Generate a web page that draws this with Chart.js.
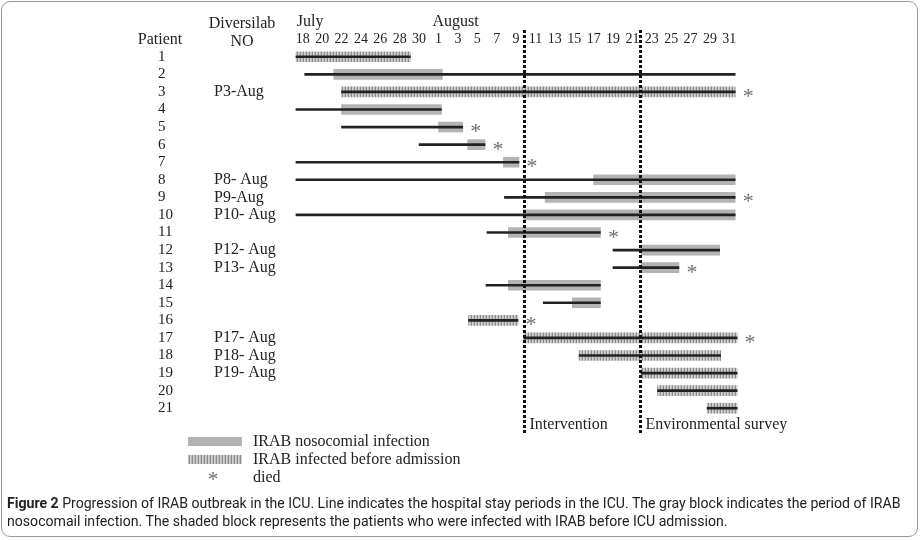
<!DOCTYPE html>
<html lang="en">
<head>
  <meta charset="UTF-8">
  <title>Progression of IRAB outbreak in the ICU</title>
  <script src="https://cdn.jsdelivr.net/npm/chart.js"></script>
  <style>
    html, body {
      margin: 0;
      padding: 0;
      background: #fff;
    }

    #chart {
      position: absolute;
      left: 0;
      top: 0;
    }

    #frame {
      position: absolute;
      left: 1px;
      top: 1px;
      width: 915px;
      height: 534px;
      border: 1px solid #9a9a9a;
      border-radius: 9px;
      pointer-events: none;
    }

    #caption {
      position: absolute;
      left: 7px;
      top: 494px;
      font-family: Roboto, "Noto Sans", sans-serif;
      font-size: 14.1px;
      line-height: 18px;
      color: #222;
      white-space: nowrap;
    }

    #caption b {
      font-weight: 700;
    }
  </style>
</head>
<body>
  <canvas id="chart" width="920" height="490"></canvas>
  <div id="frame"></div>
  <div id="caption"><b>Figure 2</b> Progression of IRAB outbreak in the ICU. Line indicates the hospital stay periods in the ICU. The gray block indicates the period of IRAB<br>nosocomail infection. The shaded block represents the patients who were infected with IRAB before ICU admission.</div>

  <script>
    // days are counted from July 18 (0 = Jul 18, 14 = Aug 1, 44 = Aug 31)
    const patients = ['1', '2', '3', '4', '5', '6', '7', '8', '9', '10', '11', '12', '13', '14', '15', '16', '17', '18', '19', '20', '21'];
    const diversilab = ['', '', 'P3-Aug', '', '', '', '', 'P8- Aug', 'P9-Aug', 'P10- Aug', '', 'P12- Aug', 'P13- Aug', '', '', '', 'P17- Aug', 'P18- Aug', 'P19- Aug', '', ''];

    // ICU stay (line)
    const stayStart = [-0.7, 0.2, 4, -0.7, 4, 12, -0.7, -0.7, 20.8, -0.7, 19, 32, 32, 18.9, 24.8, 17.1, 22.8, 28.5, 34.9, 36.6, 41.7];
    const stayEnd = [11.1, 44.6, 44.6, 14.3, 16.5, 18.8, 22.3, 44.6, 44.6, 44.6, 30.7, 43, 38.8, 30.7, 30.7, 22.2, 44.8, 43.1, 44.8, 44.8, 44.8];

    // IRAB nosocomial infection (gray block)
    const nosoStart = [null, 3.2, null, 4, 14, 17, 20.7, 30, 25, 22.8, 21.2, 34.9, 34.9, 21.2, 27.8, null, null, null, null, null, null];
    const nosoEnd = [null, 14.4, null, 14.3, 16.5, 18.8, 22.3, 44.6, 44.6, 44.6, 30.7, 43, 38.8, 30.7, 30.7, null, null, null, null, null, null];

    // IRAB infected before admission (shaded block)
    const priorStart = [-0.7, null, 4, null, null, null, null, null, null, null, null, null, null, null, null, 17.1, 22.8, 28.5, 34.9, 36.6, 41.7];
    const priorEnd = [11.1, null, 44.6, null, null, null, null, null, null, null, null, null, null, null, null, 22.2, 44.8, 43.1, 44.8, 44.8, 44.8];

    // patients who died
    const died = ['3', '5', '6', '7', '9', '11', '13', '16', '17'];

    const eventDays = [22.8, 34.8];
    const eventLabels = ['Intervention', 'Environmental survey'];

    const tickDays = [0, 2, 4, 6, 8, 10, 12, 14, 16, 18, 20, 22, 24, 26, 28, 30, 32, 34, 36, 38, 40, 42, 44];
    const tickLabels = ['18', '20', '22', '24', '26', '28', '30', '1', '3', '5', '7', '9', '11', '13', '15', '17', '19', '21', '23', '25', '27', '29', '31'];
    const monthNames = ['July', 'August'];
    const monthStart = [0, 14];

    const serif = '"Liberation Serif", "Times New Roman", serif';
    const ink = '#222';
    const grayBlock = '#b3b3b3';
    const starGray = '#707070';

    const canvas = document.getElementById('chart');
    const ctx = canvas.getContext('2d');

    function makeHatch() {
      const tile = document.createElement('canvas');
      tile.width = 3;
      tile.height = 1;
      const t = tile.getContext('2d');
      ['#8c8c8c', '#d2d2d2', '#bdbdbd'].forEach((c, i) => {
        t.fillStyle = c;
        t.fillRect(i, 0, 1, 1);
      });
      return ctx.createPattern(tile, 'repeat');
    }
    const hatch = makeHatch();

    const pairs = (a, b) => a.map((v, i) => (v === null ? null : [v, b[i]]));

    const overlay = {
      id: 'overlay',
      afterDatasetsDraw(chart) {
        const { ctx, chartArea: area, scales: { x, y, y2 } } = chart;
        ctx.save();

        // dotted event lines + labels
        eventDays.forEach((d, i) => {
          const px = Math.round(x.getPixelForValue(d)) + 0.5;
          ctx.strokeStyle = '#111';
          ctx.lineWidth = 3;
          ctx.setLineDash([3, 2]);
          ctx.beginPath();
          ctx.moveTo(px, area.top - 18);
          ctx.lineTo(px, area.bottom + 16);
          ctx.stroke();
          ctx.setLineDash([]);
          ctx.fillStyle = ink;
          ctx.font = '16px ' + serif;
          ctx.textAlign = 'left';
          ctx.textBaseline = 'middle';
          ctx.fillText(eventLabels[i], px + 5, area.bottom + 8);
        });

        // died markers
        ctx.fillStyle = starGray;
        ctx.font = '22px ' + serif;
        ctx.textAlign = 'center';
        ctx.textBaseline = 'alphabetic';
        died.forEach(p => {
          const i = patients.indexOf(p);
          ctx.fillText('*', x.getPixelForValue(stayEnd[i]) + 13, y.getPixelForValue(i) + 11);
        });

        // column headers and month names
        ctx.fillStyle = ink;
        ctx.font = '16px ' + serif;
        ctx.textBaseline = 'middle';
        ctx.textAlign = 'center';
        ctx.fillText('Patient', y.left + 2, 40);
        ctx.fillText('Diversilab', y2.left + 28, 24);
        ctx.fillText('NO', y2.left + 28, 42);
        ctx.textAlign = 'left';
        monthNames.forEach((m, i) => {
          ctx.fillText(m, x.getPixelForValue(monthStart[i]) - 6, 22);
        });

        // legend
        const lx = 188;
        ctx.fillStyle = grayBlock;
        ctx.fillRect(lx, 437, 54, 9);
        ctx.fillStyle = hatch;
        ctx.fillRect(lx, 455, 54, 9);
        ctx.fillStyle = starGray;
        ctx.font = '22px ' + serif;
        ctx.textAlign = 'center';
        ctx.textBaseline = 'alphabetic';
        ctx.fillText('*', lx + 25, 486);
        ctx.fillStyle = ink;
        ctx.font = '16px ' + serif;
        ctx.textAlign = 'left';
        ctx.textBaseline = 'middle';
        ctx.fillText('IRAB nosocomial infection', 253, 442);
        ctx.fillText('IRAB infected before admission', 253, 460);
        ctx.fillText('died', 253, 478);

        ctx.restore();
      }
    };

    new Chart(ctx, {
      type: 'bar',
      data: {
        labels: patients,
        datasets: [
          {
            label: 'ICU stay',
            data: pairs(stayStart, stayEnd),
            backgroundColor: ink,
            barThickness: 2,
            order: 0
          },
          {
            label: 'IRAB nosocomial infection',
            data: pairs(nosoStart, nosoEnd),
            backgroundColor: grayBlock,
            barThickness: 10,
            order: 1
          },
          {
            label: 'IRAB infected before admission',
            data: pairs(priorStart, priorEnd),
            backgroundColor: hatch,
            barThickness: 10,
            order: 1
          }
        ]
      },
      options: {
        responsive: false,
        animation: false,
        indexAxis: 'y',
        events: [],
        datasets: {
          bar: { grouped: false, borderWidth: 0, borderSkipped: false }
        },
        layout: {
          padding: { left: 158, right: 179, top: 20, bottom: 73 }
        },
        plugins: {
          legend: { display: false },
          tooltip: { enabled: false }
        },
        scales: {
          x: {
            type: 'linear',
            position: 'top',
            min: -0.8,
            max: 45.2,
            grid: { display: false, drawTicks: false },
            border: { display: false },
            afterBuildTicks: s => { s.ticks = tickDays.map(v => ({ value: v })); },
            afterFit: s => { s.height = 28; },
            ticks: {
              autoSkip: false,
              maxRotation: 0,
              padding: 0,
              color: ink,
              font: { family: serif, size: 14 },
              callback: (v, i) => tickLabels[i]
            }
          },
          y: {
            type: 'category',
            position: 'left',
            weight: 1,
            offset: true,
            grid: { display: false, drawTicks: false },
            border: { display: false },
            afterFit: s => { s.width = 56; },
            ticks: {
              autoSkip: false,
              crossAlign: 'far',
              padding: 0,
              color: ink,
              font: { family: serif, size: 15 }
            }
          },
          y2: {
            type: 'category',
            position: 'left',
            weight: 0,
            offset: true,
            labels: diversilab,
            grid: { display: false, drawTicks: false },
            border: { display: false },
            afterFit: s => { s.width = 81; },
            ticks: {
              autoSkip: false,
              crossAlign: 'far',
              padding: 0,
              color: ink,
              font: { family: serif, size: 16 }
            }
          }
        }
      },
      plugins: [overlay]
    });
  </script>
</body>
</html>
